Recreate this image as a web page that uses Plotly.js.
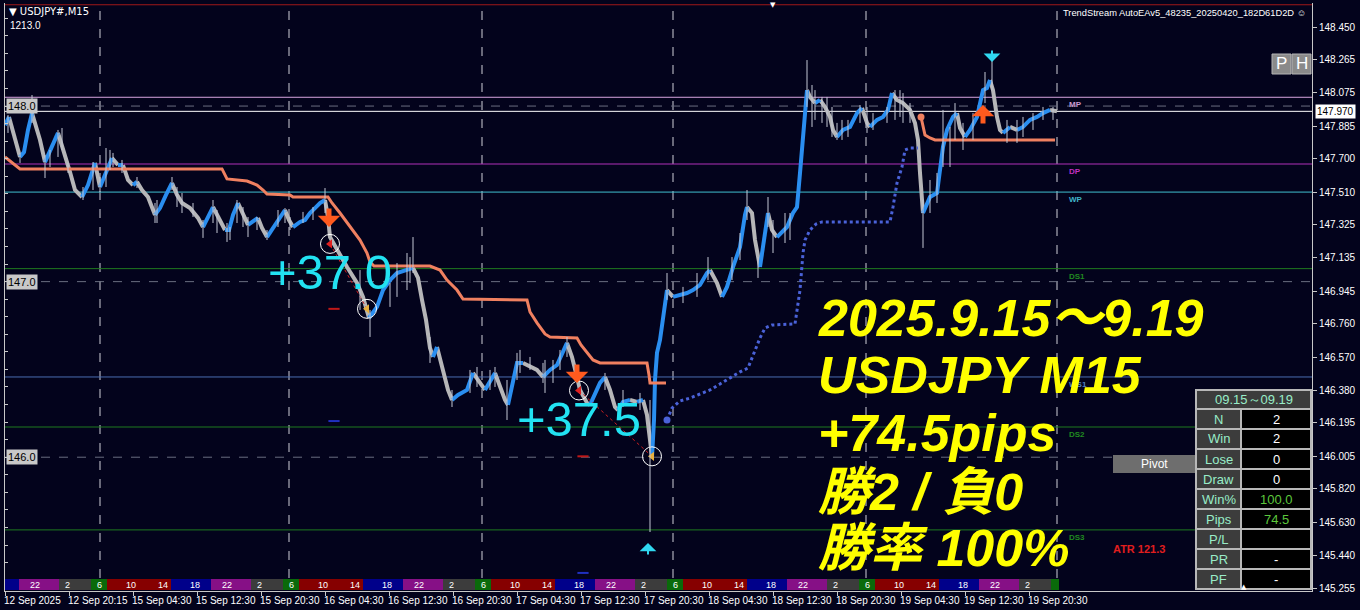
<!DOCTYPE html>
<html><head><meta charset="utf-8">
<script src="https://cdn.plot.ly/plotly-3.0.1.min.js"></script>
<style>html,body{margin:0;padding:0;background:#03031c;overflow:hidden}#c{width:1360px;height:610px}</style>
</head><body><div id="c"></div>
<script>
// ===================== DATA =====================
// main price path (bar index, price)
const barIdx = [0,2,4.5,7.5,9.5,11.5,13.5,15.5,17.5,20,22.5,25,26.5,28.5,30.5,32.5,35,38.5,41.5,45,47.5,50.5,53.5,56.5,59,61.5,64,66,68.5,71.5,75,77.5,80.5,83.5,86,88.5,92.5,96.5,99,101.5,104,107,110,112,114,116.5,119,121.5,124,126.5,128.5,131,134,137,140,142,144,147.5,150,152.5,155,157.5,160,161.5,162.5,166,171,176,179,182,186,189,192.5,196,200,204,206.5,208.5,210.5,212.5,214,216,219,221.5,223.5,226.5,231,234,237,240,242.5,245,247.5,250,251.5,254,256,259,262.5,266,269,272.5,276,279,281,283.5,286,287.5,291,292.5,295,297.5,300,302.5,305,306.5,309,312.5,316,319,321,322.5,323.5,324.5,325,326,327.5,329,331,332.5,334,337.5,341,344,347.5,351,352.5,356,358.5,361,364,367.5,370,371,373.5,375,376.5,377.5,379.5,381.5,383.5,386,388,391,394,396,397.5,399,400,401,402.5,405,407.5,410,412.5,414,416,419,422.5,426,428.5,431,432.5,436,439,441.5,443.5,446,449,452.5,455,456.5,457.5,458.5,459,461,462.5,466,467.5,469,471,474,476,477.5,480,482.5,486,489,491,492.5,494,496,497.5,499,502.5,506,509,512.5,516,519,522.5,526];
const closePx = [147.892,147.938,147.824,147.710,147.738,147.864,147.960,147.892,147.807,147.681,147.750,147.818,147.847,147.778,147.693,147.624,147.522,147.482,147.550,147.676,147.539,147.624,147.704,147.664,147.664,147.579,147.550,147.568,147.522,147.482,147.380,147.419,147.494,147.562,147.494,147.448,147.419,147.363,147.311,147.363,147.425,147.363,147.294,147.294,147.380,147.448,147.380,147.323,147.340,147.363,147.306,147.254,147.306,147.363,147.408,147.351,147.311,147.340,147.351,147.391,147.419,147.448,147.465,147.368,147.254,147.180,147.083,146.992,146.913,146.793,146.856,146.952,147.009,147.049,147.066,147.078,147.021,146.896,146.782,146.622,146.571,146.628,146.497,146.383,146.326,146.355,146.383,146.480,146.429,146.383,146.429,146.480,146.394,146.326,146.298,146.440,146.537,146.537,146.520,146.497,146.457,146.497,146.525,146.599,146.651,146.571,146.457,146.383,146.309,146.298,146.355,146.423,146.457,146.383,146.286,146.269,146.315,146.326,146.315,146.326,146.241,146.098,146.001,146.212,146.440,146.594,146.668,146.810,146.952,146.935,146.913,146.924,146.935,146.952,146.981,147.049,147.066,146.992,146.913,146.970,147.083,147.197,147.380,147.425,147.391,147.237,147.140,147.083,147.237,147.391,147.294,147.254,147.277,147.311,147.391,147.425,147.619,147.807,147.995,148.091,148.052,148.017,148.035,147.995,147.938,147.864,147.824,147.864,147.881,147.960,147.989,147.904,147.881,147.921,147.938,147.978,148.074,148.035,148.017,147.978,147.904,147.807,147.619,147.465,147.391,147.437,147.482,147.505,147.619,147.767,147.864,147.938,147.960,147.875,147.824,147.864,147.938,148.091,148.103,148.148,148.091,147.938,147.864,147.847,147.881,147.864,147.881,147.921,147.938,147.960,147.978,147.970];
// bar wicks (bar index, high, low)
const wickIdx = [1.5,13.5,20,26.5,31.5,44,47.5,50.5,54,66,75,83.5,86,99,104,111,116,121.5,131,140,142.5,160,182.5,192.5,204,202.5,212.5,223.5,232.5,245,251,256,269,281,300,322.5,331,351.5,371,376.5,381.5,384,390,401,403.5,408.5,416,427.5,431,445,449,459,462.5,469,472.5,479,490,493.5,501,506,519,524,
  405,411,413.5,418.5,421.5,434,441,447.5,452.5,466,475,484,509,514,392.5,367.5,363.5,339,346,
  177.5,196,201,236,242.5,257.5,262.5,277.5,309,270,274,317.5,
  7.5,22.5,28.5,39,52.5,58.5,76,88.5,94,106,112.5,119,126,136.5,149,154];
const wickHi = [147.949,148.063,147.721,147.864,147.676,147.681,147.596,147.761,147.733,147.596,147.448,147.596,147.539,147.351,147.465,147.334,147.465,147.368,147.294,147.419,147.368,147.533,146.839,146.992,147.254,147.140,146.685,146.383,146.497,146.514,146.440,146.594,146.537,146.685,146.480,146.326,147.049,147.140,147.522,147.140,147.482,147.351,147.391,148.262,148.120,148.052,147.904,148.006,147.995,148.091,148.074,147.465,147.579,147.978,147.881,147.904,148.194,148.262,147.921,147.921,147.995,147.995,
  148.091,148.052,147.995,147.921,147.921,147.960,147.995,148.091,148.017,147.619,148.017,147.960,147.938,147.960,147.391,147.277,147.140,146.970,147.049,
  147.066,147.106,147.163,146.514,146.497,146.611,146.571,146.611,146.383,146.554,146.554,146.366,
  147.733,147.750,147.875,147.539,147.750,147.693,147.465,147.505,147.448,147.408,147.311,147.425,147.368,147.408,147.397,147.425];
const wickLo = [147.847,147.904,147.590,147.710,147.619,147.522,147.511,147.539,147.653,147.533,147.334,147.522,147.425,147.249,147.334,147.226,147.334,147.254,147.237,147.334,147.294,147.391,146.685,146.856,147.049,146.992,146.537,146.286,146.366,146.400,146.212,146.440,146.423,146.571,146.383,145.574,146.896,147.009,147.351,147.021,147.311,147.163,147.220,147.995,147.881,147.904,147.807,147.904,147.847,147.921,147.904,147.192,147.391,147.653,147.653,147.750,148.017,148.091,147.790,147.790,147.921,147.921,
  147.921,147.881,147.824,147.807,147.824,147.864,147.904,147.938,147.904,147.448,147.807,147.807,147.824,147.864,147.237,147.123,147.009,146.878,146.913,
  146.839,146.913,146.952,146.400,146.383,146.480,146.497,146.497,146.286,146.366,146.423,146.269,
  147.676,147.653,147.750,147.465,147.636,147.619,147.334,147.391,147.368,147.277,147.237,147.311,147.294,147.311,147.334,147.351];
// trailing stop lines
const stopSellIdx = [0,4,7.5,108.5,111,121,126,129,131,142.5,144,161.5,163.5,167.5,172.5,177.5,181,182.5,184.5,212.5,217.5,221,226,229,261,262.5,266,270,272.5,286,288,291,294,297.5,321,322,322.5,330.5];
const stopSellPx  = [147.710,147.676,147.642,147.642,147.585,147.573,147.550,147.522,147.499,147.494,147.482,147.482,147.448,147.391,147.311,147.237,147.163,147.112,147.089,147.089,147.066,147.009,146.952,146.901,146.896,146.827,146.765,146.702,146.685,146.679,146.639,146.594,146.554,146.537,146.537,146.468,146.423,146.423];
const stopBuyIdx = [331,333.5,337.5,342.5,347.5,352.5,357.5,362.5,367.5,371.5,375,377.5,380,383.5,395,396.5,397.5,399,400,402.5,405.5,408.5,442.5,444,446,448.5,450,452.5,456.5];
const stopBuyPx  = [146.212,146.280,146.320,146.337,146.360,146.383,146.417,146.451,146.486,146.508,146.611,146.679,146.736,146.753,146.759,146.867,146.952,147.163,147.237,147.294,147.328,147.340,147.340,147.425,147.562,147.653,147.750,147.761,147.761];
const stopLongIdx = [458,459,460,462.5,465,525];
const stopLongPx  = [147.938,147.875,147.835,147.818,147.807,147.807];
// pivots
const pivotNames  = ['','MP','DP','WP','DS1','WS1','DS2','DS3'];
const pivotLevels = [148.577,148.050,147.670,147.510,147.074,146.457,146.172,145.586];
const gridLevels = [148.0,147.0,146.0];
const bidPrice = 147.970;
// axes
const priceTicks = [148.450,148.265,148.075,147.885,147.700,147.510,147.325,147.135,146.945,146.760,146.570,146.380,146.195,146.005,145.820,145.630,145.440,145.255];
const timeTickIdx = [0,32,64,96,128,160,192,224,256,288,320,352,384,416,448,480,512];
const timeTickLabels = ['12 Sep 2025','12 Sep 20:15','15 Sep 04:30','15 Sep 12:30','15 Sep 20:30','16 Sep 04:30','16 Sep 12:30','16 Sep 20:30','17 Sep 04:30','17 Sep 12:30','17 Sep 20:30','18 Sep 04:30','18 Sep 12:30','18 Sep 20:30','19 Sep 04:30','19 Sep 12:30','19 Sep 20:30'];
const dayBreakIdx = [47.5,142,238.5,334,430.5,526];
const barCount = 527;
const firstBarHourJST = 18.25;
// trades
const entryIdx = [162.5,287];
const entryPx  = [147.215,146.380];
const exitIdx  = [181,323.5];
const exitPx   = [146.845,146.005];
const tradePips = [37.0,37.5];
const tradeMark2 = [146.206,145.341];
// signals
const sigIdx  = [162,286,489,493.5,321.5];
const sigPx   = [147.311,146.423,148.006,148.251,145.512];
const sigType = ['sell','sell','buy','top','bottom'];
// session bar (JST hours)
const sessionStart = [1,5,7,15,20];
const sessionEnd   = [5,7,15,20,25];
const sessionLabelHours = [2,6,10,14,18,22];
// stats
const statHeader = '09.15～09.19';
const statLabels = ['N','Win','Lose','Draw','Win%','Pips','P/L','PR','PF'];
const statValues = ['2','2','0','0','100.0','74.5','','-','-'];
const summaryLines = ['2025.9.15～9.19','USDJPY M15','+74.5pips','勝2 / 負0','勝率 100%'];
const atrText = 'ATR 121.3';
const symbolTitle = '▼ USDJPY#,M15';
const subTitle = '1213.0';
const eaTitle = 'TrendStream AutoEAv5_48235_20250420_182D61D2D ☺';

// ===================== STYLE / LAYOUT =====================
const BG = '#03031c';
const L=5,R=1312,T=3,B=591;
const PX = x => (x-L)/(R-L);
const PY = y => (B-y)/(B-T);
const YR = [145.238,148.587];
const FONT = 'Liberation Sans, Arial, sans-serif';
const pivotColors = ['#a01818','#d8a6e0','#b030b8','#40c0d0','#1f7a1f','#4a6cb0','#1f7a1f','#1f7a1f'];
const pivotLabelColors = ['#a01818','#c898d0','#c030c0','#40b4c8','#208a20','#5080c0','#208a20','#208a20'];
const sessionColors = ['#3c3c3c','#0a6a0a','#860000','#00008a','#861086'];

const traces = [];
const shapes = [];
const ann = [];

// wicks
(function(){
  const x=[],y=[];
  for(let i=0;i<wickIdx.length;i++){x.push(wickIdx[i],wickIdx[i],null);y.push(wickLo[i],wickHi[i],null);}
  traces.push({x,y,yaxis:'y2',mode:'lines',line:{color:'#c4c8d4',width:1},hoverinfo:'skip'});
})();
// trend-colored price line
(function(){
  const up={x:[],y:[]},dn={x:[],y:[]};let cur=null;
  for(let i=0;i<barIdx.length-1;i++){
    const dir = closePx[i+1]>=closePx[i]?'up':'dn';
    const t = dir==='up'?up:dn;
    if(dir!==cur){ if(cur){const p=cur==='up'?up:dn;p.x.push(null);p.y.push(null);} t.x.push(barIdx[i]);t.y.push(closePx[i]);cur=dir;}
    t.x.push(barIdx[i+1]);t.y.push(closePx[i+1]);
  }
  traces.push({x:dn.x,y:dn.y,mode:'lines',line:{color:'#b6b6b8',width:4},hoverinfo:'skip'});
  traces.push({x:up.x,y:up.y,mode:'lines',line:{color:'#2a8ef0',width:4},hoverinfo:'skip'});
})();
// trailing stops
traces.push({x:stopSellIdx,y:stopSellPx,mode:'lines',line:{color:'#f08060',width:3},hoverinfo:'skip'});
traces.push({x:stopBuyIdx,y:stopBuyPx,mode:'lines',line:{color:'#4a62d8',width:3,dash:'dot'},hoverinfo:'skip'});
traces.push({x:[stopBuyIdx[0]],y:[stopBuyPx[0]],mode:'markers',marker:{color:'#4a62d8',size:7},hoverinfo:'skip'});
traces.push({x:stopLongIdx,y:stopLongPx,mode:'lines',line:{color:'#f08060',width:3},hoverinfo:'skip'});
traces.push({x:[stopLongIdx[0]],y:[stopLongPx[0]],mode:'markers',marker:{color:'#f08060',size:7},hoverinfo:'skip'});
// trades
for(let k=0;k<entryIdx.length;k++){
  traces.push({x:[entryIdx[k],exitIdx[k]],y:[entryPx[k],exitPx[k]],mode:'lines',line:{color:'#d02020',width:1,dash:'dot'},hoverinfo:'skip'});
}
traces.push({x:entryIdx.concat(exitIdx),y:entryPx.concat(exitPx),mode:'markers',marker:{symbol:'circle-open',size:19,color:'#ffffff',line:{width:1,color:'#ffffff'}},hoverinfo:'skip'});
traces.push({x:entryIdx,y:entryPx,mode:'markers',marker:{symbol:'triangle-left',size:8,color:'#e02020'},hoverinfo:'skip'});
traces.push({x:exitIdx,y:exitPx,mode:'markers',marker:{symbol:'triangle-left',size:8,color:'#e8b040'},hoverinfo:'skip'});
traces.push({x:entryIdx.map(v=>v+2),y:exitPx,mode:'markers',marker:{symbol:'line-ew',size:8,line:{width:2,color:'#c01818'}},hoverinfo:'skip'});
traces.push({x:entryIdx.map(v=>v+2),y:tradeMark2,mode:'markers',marker:{symbol:'line-ew',size:8,line:{width:2,color:'#2030c0'}},hoverinfo:'skip'});
for(let k=0;k<entryIdx.length;k++){
  ann.push({x:entryIdx[k],y:(entryPx[k]+exitPx[k])/2,xref:'x',yref:'y',text:'+'+tradePips[k].toFixed(1),showarrow:false,xanchor:'center',yanchor:'middle',yshift:4,font:{family:FONT,size:49,color:'#22e2f2'}});
}
// signal arrows
for(let k=0;k<sigIdx.length;k++){
  const t=sigType[k];
  let col='#ff5a1e',w=5,len=20,dir=1,sz=0.75;
  if(t==='buy'){dir=-1;}
  if(t==='top'){col='#30d8f0';w=2;len=13;sz=1.4;}
  if(t==='bottom'){col='#30d8f0';w=2;len=13;sz=1.4;dir=-1;}
  ann.push({x:sigIdx[k],y:sigPx[k],xref:'x',yref:'y',text:'',showarrow:true,ax:0,ay:-dir*len,arrowhead:1,arrowsize:sz,arrowwidth:w,arrowcolor:col,standoff:0});
}

// day separators
dayBreakIdx.forEach(d=>shapes.push({type:'line',xref:'x',yref:'paper',x0:d,x1:d,y0:PY(578),y1:1,line:{color:'#d0d0d8',width:1,dash:'dash'},layer:'below'}));
// grid levels
gridLevels.forEach(g=>{
  shapes.push({type:'line',xref:'paper',yref:'y',x0:0,x1:1,y0:g,y1:g,line:{color:'#6a6e80',width:1,dash:'dash'},layer:'below'});
  ann.push({xref:'paper',yref:'y',x:PX(6),y:g,text:g.toFixed(1),showarrow:false,xanchor:'left',yanchor:'middle',bgcolor:'#c8c8c8',borderpad:1,font:{family:FONT,size:11,color:'#000000'}});
});
// pivots
pivotLevels.forEach((p,i)=>{
  shapes.push({type:'line',xref:'paper',yref:'y',x0:0,x1:1,y0:p,y1:p,line:{color:pivotColors[i],width:1},layer:'below'});
  if(pivotNames[i]) ann.push({xref:'x',yref:'y',x:531,y:p,text:'<b>'+pivotNames[i]+'</b>',showarrow:false,xanchor:'left',yanchor:'top',yshift:-1,font:{family:FONT,size:8,color:pivotLabelColors[i]}});
});
// bid line
shapes.push({type:'line',xref:'paper',yref:'y',x0:0,x1:1,y0:bidPrice,y1:bidPrice,line:{color:'#ffffff',width:1},layer:'below'});
ann.push({xref:'paper',yref:'y',x:PX(1315),y:bidPrice,text:bidPrice.toFixed(3),showarrow:false,xanchor:'left',yanchor:'middle',bgcolor:'#ffffff',borderpad:1,font:{family:FONT,size:10,color:'#000000'}});

// session bar
(function(){
  const sess = h=>{for(let s=0;s<sessionStart.length;s++){const hh=(h<sessionStart[s]?h+24:h);if(hh>=sessionStart[s]&&hh<sessionEnd[s])return s;}return 4;};
  let start=0,cur=sess(firstBarHourJST%24);
  for(let i=1;i<=barCount;i++){
    const s = i<barCount? sess((firstBarHourJST+0.25*i)%24) : -1;
    if(s!==cur){shapes.push({type:'rect',xref:'x',yref:'paper',x0:start,x1:i,y0:PY(590),y1:PY(579),fillcolor:sessionColors[cur],line:{width:0},layer:'above'});start=i;cur=s;}
  }
  for(let i=0;i<barCount;i++){
    const h=(firstBarHourJST+0.25*i)%24;
    if(sessionLabelHours.indexOf(h)>=0) ann.push({xref:'x',yref:'paper',x:i,y:PY(584.5),text:String(h),showarrow:false,xanchor:'center',yanchor:'middle',font:{family:FONT,size:9,color:'#ffffff'}});
  }
})();

// time tick labels
timeTickIdx.forEach((t,i)=>ann.push({xref:'x',yref:'paper',x:t,y:0,text:timeTickLabels[i],showarrow:false,xanchor:'left',yanchor:'top',xshift:-3,yshift:-2,font:{family:FONT,size:10,color:'#ffffff'}}));

// headers
ann.push({xref:'paper',yref:'paper',x:PX(7),y:PY(11),text:symbolTitle,showarrow:false,xanchor:'left',yanchor:'middle',font:{family:'DejaVu Sans, sans-serif',size:10,color:'#ffffff'}});
ann.push({xref:'paper',yref:'paper',x:PX(8),y:PY(25),text:subTitle,showarrow:false,xanchor:'left',yanchor:'middle',font:{family:FONT,size:10,color:'#ffffff'}});
ann.push({xref:'paper',yref:'paper',x:PX(1061),y:PY(13),text:eaTitle,showarrow:false,xanchor:'left',yanchor:'middle',font:{family:FONT,size:9.3,color:'#ffffff'}});
ann.push({xref:'paper',yref:'paper',x:PX(773),y:PY(5),text:'▼',showarrow:false,xanchor:'center',yanchor:'middle',font:{family:'DejaVu Sans',size:7,color:'#ffffff'}});
ann.push({xref:'paper',yref:'paper',x:PX(1244),y:PY(587),text:'▲',showarrow:false,xanchor:'center',yanchor:'middle',font:{family:'DejaVu Sans',size:7,color:'#ffffff'}});

// P / H buttons
[['P',1272],['H',1292]].forEach(([t,x0])=>{
  shapes.push({type:'rect',xref:'paper',yref:'paper',x0:PX(x0),x1:PX(x0+19),y0:PY(74),y1:PY(54),fillcolor:'#8a8a8a',line:{color:'#b4b4b4',width:1},layer:'above'});
  ann.push({xref:'paper',yref:'paper',x:PX(x0+9.5),y:PY(64),text:t,showarrow:false,xanchor:'center',yanchor:'middle',font:{family:FONT,size:17,color:'#ffffff'}});
});

// summary text
summaryLines.forEach((s,i)=>{
  const cy=[318,375,433,492,548][i];
  ann.push({xref:'paper',yref:'paper',x:PX(816),y:PY(cy),text:s,showarrow:false,xanchor:'left',yanchor:'middle',font:{family:"Liberation Sans, 'Noto Sans CJK JP', sans-serif",size:52,color:'#ffff00',weight:700,style:'italic'}});
});
// ATR
ann.push({xref:'paper',yref:'paper',x:PX(1111),y:PY(549),text:'<b>'+atrText+'</b>',showarrow:false,xanchor:'left',yanchor:'middle',font:{family:FONT,size:11,color:'#e01e1e'}});
// Pivot button
shapes.push({type:'rect',xref:'paper',yref:'paper',x0:PX(1113),x1:PX(1196),y0:PY(473),y1:PY(455),fillcolor:'#6e6e6e',line:{width:0},layer:'above'});
ann.push({xref:'paper',yref:'paper',x:PX(1154),y:PY(464),text:'Pivot',showarrow:false,xanchor:'center',yanchor:'middle',font:{family:FONT,size:12,color:'#ffffff'}});

// stats table
(function(){
  const x0=1196,xm=1241,x1=1311,top=390,hb=409,rh=20,bc='#b8b8b8';
  shapes.push({type:'rect',xref:'paper',yref:'paper',x0:PX(x0),x1:PX(x1),y0:PY(hb),y1:PY(top),fillcolor:'#3c3c3c',line:{color:bc,width:2},layer:'above'});
  ann.push({xref:'paper',yref:'paper',x:PX((x0+x1)/2),y:PY((top+hb)/2),text:statHeader,showarrow:false,xanchor:'center',yanchor:'middle',font:{family:FONT,size:13,color:'#98ecc8'}});
  statLabels.forEach((lab,r)=>{
    const a=hb+r*rh,b=a+rh;
    shapes.push({type:'rect',xref:'paper',yref:'paper',x0:PX(x0),x1:PX(xm),y0:PY(b),y1:PY(a),fillcolor:'#3c3c3c',line:{color:bc,width:2},layer:'above'});
    shapes.push({type:'rect',xref:'paper',yref:'paper',x0:PX(xm),x1:PX(x1),y0:PY(b),y1:PY(a),fillcolor:'#000000',line:{color:bc,width:2},layer:'above'});
    ann.push({xref:'paper',yref:'paper',x:PX((x0+xm)/2),y:PY((a+b)/2),text:lab,showarrow:false,xanchor:'center',yanchor:'middle',font:{family:FONT,size:13,color:'#98ecc8'}});
    const v=statValues[r];
    if(v) ann.push({xref:'paper',yref:'paper',x:PX((xm+x1)/2),y:PY((a+b)/2),text:v,showarrow:false,xanchor:'center',yanchor:'middle',font:{family:FONT,size:13,color:(lab==='Win%'||lab==='Pips')?'#5cc83c':'#ffffff'}});
  });
})();

const layout = {
  width:1360,height:610,
  margin:{l:L,r:1360-R,t:T,b:610-B,pad:0},
  paper_bgcolor:BG,plot_bgcolor:BG,
  showlegend:false,
  xaxis:{range:[0,653.5],showgrid:false,zeroline:false,showline:true,linecolor:'#c8c8c8',linewidth:1,
    tickmode:'array',tickvals:timeTickIdx,ticks:'outside',ticklen:4,tickcolor:'#c8c8c8',showticklabels:false},
  yaxis:{range:YR,side:'right',showgrid:false,zeroline:false,showline:true,linecolor:'#c8c8c8',linewidth:1,
    tickmode:'array',tickvals:priceTicks,ticktext:priceTicks.map(v=>v.toFixed(3)),ticks:'outside',ticklen:4,tickcolor:'#c8c8c8',
    tickfont:{family:FONT,size:10,color:'#ffffff'}},
  yaxis2:{range:YR,overlaying:'y',side:'left',showgrid:false,zeroline:false,showline:true,linecolor:'#c8c8c8',linewidth:1,
    tickmode:'linear',tick0:145.2,dtick:0.1,ticks:'inside',ticklen:3,tickcolor:'#c8c8c8',showticklabels:false},
  shapes:shapes,annotations:ann
};
Plotly.newPlot('c',traces,layout,{displayModeBar:false,staticPlot:true});
</script></body></html>
